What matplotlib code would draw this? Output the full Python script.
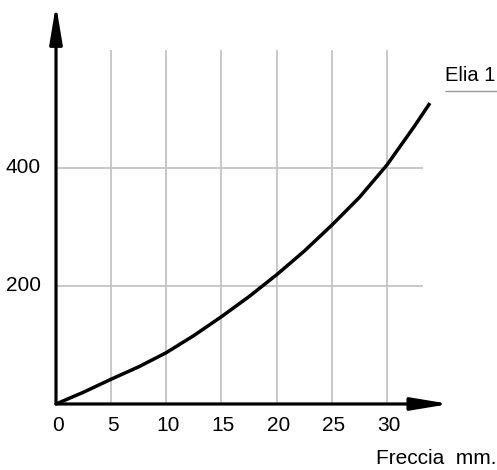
import numpy as np
import matplotlib
matplotlib.use("Agg")
import matplotlib.pyplot as plt

# curve (freccia in mm vs load)
freccia = [0, 2.5, 5, 7.5, 10, 12.5, 15, 17.5, 20, 22.5, 25, 27.5, 30, 32.5, 33.9]
carico = [0, 20, 42, 63, 87, 116, 148, 182, 219, 259, 303, 350, 405, 471, 510]

x_ticks = [0, 5, 10, 15, 20, 25, 30]
y_ticks = [200, 400]
x_grid = [5, 10, 15, 20, 25, 30]
y_grid = [200, 400]
curve_label = "Elia 1"
x_label = "Freccia  mm."

plt.rcParams["font.family"] = ["Liberation Sans", "DejaVu Sans"]

fig = plt.figure(figsize=(4.97, 4.70), dpi=100)
ax = fig.add_axes([0, 0, 1, 1])
ax.set_xlim(-5.077, 39.98)
ax.set_ylim(-111.9, 684.7)
ax.axis("off")

grid_col = "#c4c4c4"
ax.vlines(x_grid, 0, 600, color=grid_col, lw=1.3, zorder=1)
ax.hlines(y_grid, 0, 33.3, color=grid_col, lw=1.3, zorder=1)

arrow = dict(arrowstyle="-|>,head_length=23,head_width=3.8", mutation_scale=1,
             lw=2.3, color="black", shrinkA=0, shrinkB=0)
ax.annotate("", xy=(35.7, 0), xytext=(0, 0), arrowprops=arrow, zorder=3)
ax.annotate("", xy=(0, 677), xytext=(0, 0), arrowprops=arrow, zorder=3)

ax.plot(freccia, carico, color="black", lw=2.5, solid_capstyle="butt", zorder=4)

for t in x_ticks:
    ax.text(t + 0.15, -36, str(t), ha="center", va="center", fontsize=15)
for t in y_ticks:
    ax.text(-1.35, t, str(t), ha="right", va="center", fontsize=15)

ax.text(35.25, 557, curve_label, ha="left", va="center", fontsize=14.5)
ax.hlines(531, 35.3, 39.98, color="#999999", lw=1.0)
ax.text(39.9, -92, x_label, ha="right", va="center", fontsize=15)

fig.savefig("out.png", dpi=100)
